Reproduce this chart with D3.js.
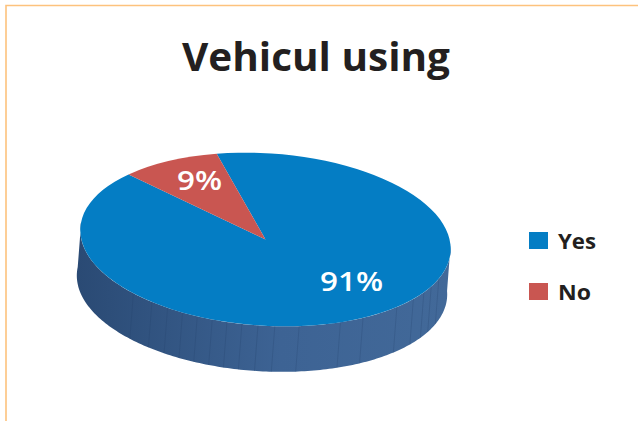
<!DOCTYPE html>
<html><head><meta charset="utf-8">
<script src="https://cdn.jsdelivr.net/npm/d3@7"></script>
<style>html,body{margin:0;padding:0;background:#fff}svg{display:block}text{font-family:"Open Sans",sans-serif}</style>
</head><body><svg id="c" width="638" height="421"></svg>
<script>
const categories = ["Yes", "No"];
const values = [91, 9];
const labels = ["91%", "9%"];
const colors = ["#047dc4", "#c95651"];
const title = "Vehicul using";
const facetAngles = [133.8,126.1,120.2,114.9,109.9,105,100.3,95.6,90.6,85.4,77.8,64.4,56.5,43.1,35.3,29.5,24.8,18.9];

const svg = d3.select("#c");
const W = 638, H = 421;
const cx = 265.5, cy = 239.5, rx = 185.5, ry = 86.2, tilt = 3.7, depth = [-3.5, 45.5];
const rad = Math.PI / 180;

// frame
svg.append("path").attr("d", d3.line()([[6, H],[6, 5.5],[W, 5.5]]))
  .attr("fill","none").attr("stroke","#fdc27d").attr("stroke-width",1.6);

// title
svg.append("text").attr("x",182).attr("y",71)
  .attr("textLength",268).attr("lengthAdjust","spacingAndGlyphs")
  .attr("font-size",38.5).attr("font-weight",700).attr("fill","#231f20").text(title);

const defs = svg.append("defs");
const g = defs.append("linearGradient").attr("id","side").attr("gradientUnits","userSpaceOnUse")
  .attr("x1",77).attr("x2",447).attr("y1",0).attr("y2",0);
g.append("stop").attr("offset",0).attr("stop-color","#2a4a74");
g.append("stop").attr("offset",0.55).attr("stop-color","#3d6394");
g.append("stop").attr("offset",1).attr("stop-color","#426999");

// point on the rim; t in degrees, counter-clockwise from the right, screen y down for positive sin
function rim(t, off) {
  const x = rx * Math.cos(t*rad), y = ry * Math.sin(t*rad);
  const c = Math.cos(tilt*rad), s = Math.sin(tilt*rad);
  return [cx + x*c - y*s + (off?depth[0]:0), cy + x*s + y*c + (off?depth[1]:0)];
}
const sweep = d3.range(-4, 184.01, 1);
const sideOutline = sweep.map(t => rim(t,false)).concat(sweep.slice().reverse().map(t => rim(t,true)));
svg.append("path").attr("d", d3.line()(sideOutline)+"Z").attr("fill","url(#side)");
svg.selectAll("line.facet").data(facetAngles).join("line").attr("class","facet")
  .attr("x1",d=>rim(d,false)[0]).attr("y1",d=>rim(d,false)[1])
  .attr("x2",d=>rim(d,true)[0]).attr("y2",d=>rim(d,true)[1])
  .attr("stroke","#22406a").attr("stroke-opacity",0.3).attr("stroke-width",0.8);

// top face
const pie = d3.pie().sort(null).startAngle(-17*rad).endAngle(343*rad)(values);
const arc = d3.arc().innerRadius(0).outerRadius(rx);
const face = svg.append("g").attr("transform",`translate(${cx},${cy}) rotate(${tilt}) scale(1,${ry/rx})`);
face.selectAll("path").data(pie).join("path").attr("d",arc).attr("fill",(d,i)=>colors[i]);

// value labels
const labelPos = [[320,291],[177,189.5]];
const labelWidth = [63,45];
svg.selectAll("text.v").data(labels).join("text").attr("class","v")
  .attr("x",(d,i)=>labelPos[i][0]).attr("y",(d,i)=>labelPos[i][1])
  .attr("textLength",(d,i)=>labelWidth[i]).attr("lengthAdjust","spacingAndGlyphs")
  .attr("font-size",27).attr("font-weight",600).attr("fill","#fff").text(d=>d);

// legend
const legY = d3.scalePoint().domain(categories).range([232,283]);
const legWidth = [38,33];
svg.selectAll("rect.l").data(categories).join("rect").attr("class","l")
  .attr("x",529).attr("y",d=>legY(d)).attr("width",19).attr("height",17).attr("fill",(d,i)=>colors[i]);
svg.selectAll("text.l").data(categories).join("text").attr("class","l")
  .attr("x",558).attr("y",d=>legY(d)+16.5)
  .attr("textLength",(d,i)=>legWidth[i]).attr("lengthAdjust","spacingAndGlyphs")
  .attr("font-size",21).attr("font-weight",700)
  .attr("fill","#231f20").text(d=>d);
</script></body></html>
